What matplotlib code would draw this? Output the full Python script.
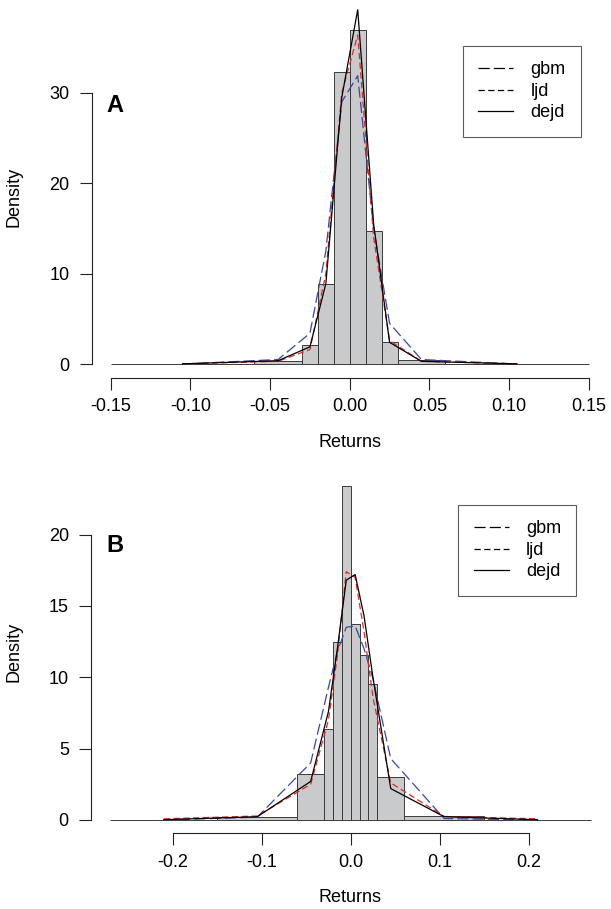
import numpy as np
import matplotlib
matplotlib.use("Agg")
import matplotlib.pyplot as plt
from matplotlib.lines import Line2D

plt.rcParams['font.family'] = ['Liberation Sans', 'DejaVu Sans']
plt.rcParams['lines.scale_dashes'] = False

# ---------------- data panel A ----------------
breaks_a = [-0.15, -0.06, -0.03, -0.02, -0.01, 0.00, 0.01, 0.02, 0.03, 0.06, 0.15]
hist_a = [0.02, 0.30, 2.07, 8.84, 32.3, 36.9, 14.7, 2.43, 0.42, 0.02]
gbm_a = [0.0, 0.5, 3.4, 12.5, 29.0, 31.9, 15.0, 4.5, 0.5, 0.0]
ljd_a = [0.02, 0.3, 1.6, 10.0, 30.0, 36.4, 14.0, 2.6, 0.3, 0.02]
dejd_a = [0.02, 0.37, 1.9, 8.9, 29.5, 39.2, 15.5, 2.4, 0.3, 0.02]
xticks_a = [-0.15, -0.10, -0.05, 0.00, 0.05, 0.10, 0.15]
xlabels_a = ["-0.15", "-0.10", "-0.05", "0.00", "0.05", "0.10", "0.15"]
yticks_a = [0, 10, 20, 30]

# ---------------- data panel B ----------------
breaks_b = [-0.27, -0.15, -0.06, -0.03, -0.02, -0.01, 0.00, 0.01, 0.02, 0.03, 0.06, 0.15, 0.27]
hist_b = [0.01, 0.23, 3.22, 6.4, 12.45, 23.4, 13.73, 11.54, 9.5, 2.99, 0.28, 0.01]
gbm_b = [0.0, 0.2, 4.0, 9.3, 11.8, 13.5, 13.6, 12.0, 9.9, 4.3, 0.1, 0.0]
ljd_b = [0.08, 0.28, 2.5, 7.0, 11.5, 17.4, 17.0, 13.2, 8.6, 2.6, 0.25, 0.08]
dejd_b = [0.02, 0.23, 2.7, 7.6, 12.0, 16.8, 17.2, 14.3, 10.0, 2.2, 0.23, 0.02]
xticks_b = [-0.2, -0.1, 0.0, 0.1, 0.2]
xlabels_b = ["-0.2", "-0.1", "0.0", "0.1", "0.2"]
yticks_b = [0, 5, 10, 15, 20]

legend_names = ["gbm", "ljd", "dejd"]

W, H = 611, 909
fig = plt.figure(figsize=(W / 100, H / 100), dpi=100)

FS = 13
gbm_dash = (0, (8, 3))
ljd_dash = (0, (4.5, 2.5))


def px_axes(left, top, right, bottom):
    # axes from pixel box (origin top-left)
    return fig.add_axes([left / W, 1 - bottom / H, (right - left) / W, (bottom - top) / H])


def draw_panel(ax, breaks, hist, gbm, ljd, dejd, xlim, ylim, xticks, xlabels, yticks):
    breaks = np.array(breaks)
    mids = (breaks[:-1] + breaks[1:]) / 2
    ax.bar(breaks[:-1], hist, width=np.diff(breaks), align='edge',
           color='#c9cacc', edgecolor='#3a3a3a', linewidth=0.7, zorder=1)
    ax.plot(mids, gbm, color='#3b46a8', linestyle=gbm_dash, linewidth=0.9, zorder=2, clip_on=False)
    ax.plot(mids, ljd, color='#e8261f', linestyle=ljd_dash, linewidth=0.9, zorder=3, clip_on=False)
    ax.plot(mids, dejd, color='black', linestyle='-', linewidth=0.9, zorder=4, clip_on=False)

    ax.set_xlim(xlim)
    ax.set_ylim(ylim)
    for s in ['top', 'right']:
        ax.spines[s].set_visible(False)
    ax.spines['left'].set_bounds(yticks[0], yticks[-1])
    ax.spines['bottom'].set_bounds(xticks[0], xticks[-1])
    for s in ['left', 'bottom']:
        ax.spines[s].set_linewidth(0.8)
        ax.spines[s].set_color('#222222')
    ax.set_xticks(xticks)
    ax.set_xticklabels(xlabels)
    ax.set_yticks(yticks)
    ax.set_yticklabels([str(t) for t in yticks])
    ax.tick_params(axis='both', direction='out', length=8.6, width=0.8,
                   color='#222222', labelsize=FS)
    ax.tick_params(axis='x', pad=6)
    ax.tick_params(axis='y', pad=7.5)
    ax.patch.set_visible(False)


def add_legend(ax, left, top):
    handles = [Line2D([], [], color='black', linestyle=gbm_dash, linewidth=0.9),
               Line2D([], [], color='black', linestyle=ljd_dash, linewidth=0.9),
               Line2D([], [], color='black', linestyle='-', linewidth=0.9)]
    leg = ax.legend(handles, legend_names, loc='upper left',
                    bbox_to_anchor=(left / W, 1 - top / H), bbox_transform=fig.transFigure,
                    borderaxespad=0, fontsize=FS, frameon=True, fancybox=False,
                    handlelength=1.95, handletextpad=0.95, borderpad=0.85, labelspacing=0.25)
    leg.get_frame().set_edgecolor('#333333')
    leg.get_frame().set_linewidth(0.8)


# Panel A
ax_a = px_axes(91.7, 16.0, 607.8, 377.6)
draw_panel(ax_a, breaks_a, hist_a, gbm_a, ljd_a, dejd_a, (-0.162, 0.162), (-1.5, 38.5),
           xticks_a, xlabels_a, yticks_a)
add_legend(ax_a, 462.7, 46)

# Panel B
ax_b = px_axes(91.2, 471.8, 610.2, 833.4)
draw_panel(ax_b, breaks_b, hist_b, gbm_b, ljd_b, dejd_b, (-0.2916, 0.2916), (-0.94, 24.4),
           xticks_b, xlabels_b, yticks_b)
add_legend(ax_b, 458.3, 505)

# labels
fig.text(14 / W, 1 - 197 / H, "Density", rotation=90, ha='center', va='center', fontsize=FS)
fig.text(14 / W, 1 - 652 / H, "Density", rotation=90, ha='center', va='center', fontsize=FS)
fig.text(350 / W, 1 - 443 / H, "Returns", ha='center', va='center', fontsize=FS)
fig.text(350 / W, 1 - 897 / H, "Returns", ha='center', va='center', fontsize=FS)
fig.text(114.5 / W, 1 - 105.5 / H, "A", ha='center', va='center', fontsize=17, fontweight='bold')
fig.text(115 / W, 1 - 545 / H, "B", ha='center', va='center', fontsize=17, fontweight='bold')

plt.savefig("out.png", dpi=100)
plt.close()
